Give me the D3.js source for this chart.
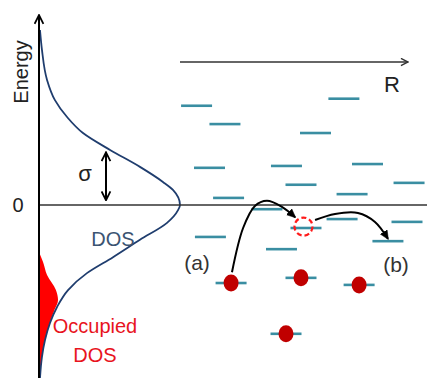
<!DOCTYPE html>
<html lang="en">
<head>
<meta charset="utf-8">
<title>DOS hopping</title>
<script src="https://cdn.jsdelivr.net/npm/d3@7/dist/d3.min.js"></script>
<style>
  body { margin: 0; background: #fff; }
  svg { display: block; font-family: "Liberation Sans", Arial, sans-serif; }
</style>
</head>
<body>
<div id="chart"></div>
<script>
// energy in units of sigma, DOS normalised to peak = 1
var dosEnergy = [3.72, 3.30, 2.66, 2.23, 1.87, 1.53, 1.17, 0.81, 0.49, 0.32, 0, -0.11, -0.38, -0.74, -1.11, -1.45, -1.81, -2.17, -2.51, -2.87, -3.23, -3.68];
var dosValue  = [0.007, 0.021, 0.057, 0.113, 0.199, 0.312, 0.504, 0.716, 0.879, 0.95, 1.0, 0.986, 0.908, 0.716, 0.525, 0.340, 0.206, 0.128, 0.078, 0.043, 0.021, 0.007];

var occEnergy = [-1.0, -1.21, -1.49, -1.81, -2.02, -2.23, -2.51, -2.87, -3.23, -3.68];
var occValue  = [0.0, 0.028, 0.057, 0.12, 0.135, 0.11, 0.078, 0.043, 0.021, 0.007];

// localized states: position R and energy
var levelR      = [0.73, 1.98, 7.22, 5.97, 1.30, 4.69, 8.26, 5.33, 10.09, 2.14, 7.58, 3.83, 7.14, 5.55, 10.0, 1.34, 9.16, 4.47, 2.25, 5.33, 7.89, 4.67];
var levelE      = [2.11, 1.72, 2.26, 1.53, 0.79, 0.83, 0.87, 0.43, 0.47, 0.15, 0.23, -0.09, -0.30, -0.49, -0.36, -0.68, -0.77, -0.94, -1.66, -1.55, -1.70, -2.74];
var levelFilled = [0, 0, 0, 0, 0, 0, 0, 0, 0, 0, 0, 0, 0, 0, 0, 0, 0, 0, 1, 1, 1, 1];

var vacancyR = 5.44, vacancyE = -0.46;

// hop paths (a) and (b)
var hopA = [[2.29, -1.43], [2.78, -0.49], [3.30, -0.02], [3.83, 0.09], [4.49, -0.04], [5.07, -0.26]];
var hopB = [[5.95, -0.32], [6.83, -0.19], [7.84, -0.17], [8.59, -0.36], [9.16, -0.72]];

var width = 427, height = 378;

var svg = d3.select("#chart").append("svg")
    .attr("width", width)
    .attr("height", height);

var yE = d3.scaleLinear().domain([-3.68, 4.04]).range([378, 15]);
var xD = d3.scaleLinear().domain([0, 1]).range([39, 180]);
var xR = d3.scaleLinear().domain([0, 10]).range([180, 407]);

var defs = svg.append("defs");
function marker(id, color, size, filled) {
    defs.append("marker")
        .attr("id", id)
        .attr("viewBox", "0 -5 10 10")
        .attr("refX", 9)
        .attr("refY", 0)
        .attr("markerWidth", size)
        .attr("markerHeight", size)
        .attr("orient", "auto-start-reverse")
        .append("path")
        .attr("d", filled ? "M0,-4.5L10,0L0,4.5Z" : "M1,-4L9,0L1,4")
        .attr("fill", filled ? color : "none")
        .attr("stroke", color)
        .attr("stroke-width", filled ? 0.5 : 1.6);
}
marker("arrBlack", "#000", 5.5, false);
marker("arrHop", "#000", 4.5, true);
marker("arrGrey", "#333", 6, false);

// occupied DOS
svg.append("path")
    .datum(occEnergy.map(function(e, i) { return [e, occValue[i]]; }))
    .attr("fill", "#ff0000")
    .attr("d", d3.area()
        .curve(d3.curveMonotoneY)
        .y(function(d) { return yE(d[0]); })
        .x0(xD(0))
        .x1(function(d) { return xD(d[1]); }));

// DOS curve
svg.append("path")
    .datum(dosEnergy.map(function(e, i) { return [e, dosValue[i]]; }))
    .attr("fill", "none")
    .attr("stroke", "#1f3d6e")
    .attr("stroke-width", 1.8)
    .attr("d", d3.line()
        .curve(d3.curveMonotoneY)
        .x(function(d) { return xD(d[1]); })
        .y(function(d) { return yE(d[0]); }));

// zero line
svg.append("line")
    .attr("x1", xD(0)).attr("x2", width)
    .attr("y1", yE(0)).attr("y2", yE(0))
    .attr("stroke", "#333")
    .attr("stroke-width", 1.5);

// energy axis
svg.append("line")
    .attr("x1", xD(0)).attr("x2", xD(0))
    .attr("y1", height).attr("y2", yE(4.04))
    .attr("stroke", "#000")
    .attr("stroke-width", 2)
    .attr("marker-end", "url(#arrBlack)");

// R axis
svg.append("line")
    .attr("x1", xR(0)).attr("x2", xR(10.05))
    .attr("y1", 62).attr("y2", 62)
    .attr("stroke", "#333")
    .attr("stroke-width", 1.5)
    .attr("marker-end", "url(#arrGrey)");

// sigma arrow
svg.append("line")
    .attr("x1", 106).attr("x2", 106)
    .attr("y1", yE(0.1)).attr("y2", yE(1.12))
    .attr("stroke", "#000")
    .attr("stroke-width", 2)
    .attr("marker-start", "url(#arrBlack)")
    .attr("marker-end", "url(#arrBlack)");

// levels
var levels = levelR.map(function(r, i) { return { r: r, e: levelE[i], filled: levelFilled[i] }; });
svg.append("g").selectAll("line")
    .data(levels)
    .enter().append("line")
    .attr("x1", function(d) { return xR(d.r) - 15.5; })
    .attr("x2", function(d) { return xR(d.r) + 15.5; })
    .attr("y1", function(d) { return yE(d.e); })
    .attr("y2", function(d) { return yE(d.e); })
    .attr("stroke", "#3a8ea2")
    .attr("stroke-width", 2.6);

// hops
var hopLine = d3.line()
    .curve(d3.curveCatmullRom)
    .x(function(d) { return xR(d[0]); })
    .y(function(d) { return yE(d[1]); });
[hopA, hopB].forEach(function(h) {
    svg.append("path")
        .attr("d", hopLine(h))
        .attr("fill", "none")
        .attr("stroke", "#000")
        .attr("stroke-width", 2)
        .attr("marker-end", "url(#arrHop)");
});

// electrons
svg.append("g").selectAll("ellipse")
    .data(levels.filter(function(d) { return d.filled; }))
    .enter().append("ellipse")
    .attr("cx", function(d) { return xR(d.r); })
    .attr("cy", function(d) { return yE(d.e); })
    .attr("rx", 7.5)
    .attr("ry", 8.5)
    .attr("fill", "#c00000");

// vacancy
svg.append("circle")
    .attr("cx", xR(vacancyR))
    .attr("cy", yE(vacancyE))
    .attr("r", 9)
    .attr("fill", "none")
    .attr("stroke", "#ff1a1a")
    .attr("stroke-width", 2.2)
    .attr("stroke-dasharray", "5,3");

// labels
svg.append("text")
    .attr("transform", "translate(28,72) rotate(-90)")
    .attr("text-anchor", "middle")
    .attr("font-size", 20)
    .attr("fill", "#222")
    .text("Energy");

svg.append("text")
    .attr("x", 18).attr("y", 212)
    .attr("text-anchor", "middle")
    .attr("font-size", 20)
    .attr("fill", "#222")
    .text("0");

svg.append("text")
    .attr("x", 85).attr("y", 181)
    .attr("text-anchor", "middle")
    .attr("font-size", 22)
    .attr("fill", "#222")
    .text("σ");

svg.append("text")
    .attr("x", 384).attr("y", 92)
    .attr("font-size", 22)
    .attr("fill", "#222")
    .text("R");

svg.append("text")
    .attr("x", 113).attr("y", 246)
    .attr("text-anchor", "middle")
    .attr("font-size", 20)
    .attr("fill", "#3b5472")
    .text("DOS");

svg.append("text")
    .attr("x", 95).attr("y", 333)
    .attr("text-anchor", "middle")
    .attr("font-size", 20)
    .attr("fill", "#e8141e")
    .text("Occupied");

svg.append("text")
    .attr("x", 95).attr("y", 362)
    .attr("text-anchor", "middle")
    .attr("font-size", 20)
    .attr("fill", "#e8141e")
    .text("DOS");

svg.append("text")
    .attr("x", 197).attr("y", 270)
    .attr("text-anchor", "middle")
    .attr("font-size", 21)
    .attr("fill", "#333")
    .text("(a)");

svg.append("text")
    .attr("x", 396).attr("y", 272)
    .attr("text-anchor", "middle")
    .attr("font-size", 21)
    .attr("fill", "#333")
    .text("(b)");
</script>
</body>
</html>
